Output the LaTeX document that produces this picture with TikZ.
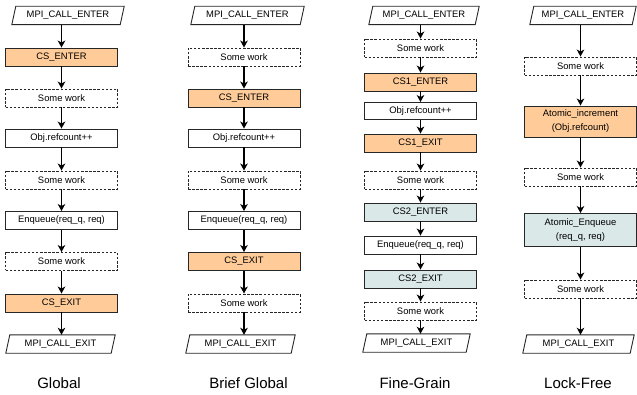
\documentclass[tikz,border=0pt]{standalone}
\usepackage{fontspec}
\setmainfont{Liberation Sans}
\usetikzlibrary{arrows.meta}
\definecolor{csorange}{HTML}{FFCC99}
\definecolor{csteal}{HTML}{DAE8E8}
\tikzset{
  box/.style={draw=black!85, line width=0.9pt, minimum width=112pt, minimum height=18pt,
    inner sep=0pt, font=\fontsize{9.4}{14}\selectfont, align=center},
  work/.style={box, dash pattern=on 2.5pt off 1.6pt},
  crit/.style={box, fill=csorange},
  crittwo/.style={box, fill=csteal},
  io/.style={minimum height=18pt, inner sep=0pt, font=\fontsize{9.4}{14}\selectfont},
  arr/.style={-{Stealth[length=7pt,width=7.5pt,inset=2pt]}, line width=1.2pt},
  coltitle/.style={font=\fontsize{15}{18}\selectfont}
}
\newcommand\mypgram[1]{\draw[draw=black!85, line width=0.9pt] ([xshift=-2pt]#1.south west) -- ([xshift=2pt]#1.north west) -- ([xshift=2pt]#1.north east) -- ([xshift=-2pt]#1.south east) -- cycle;}
\begin{document}
\begin{tikzpicture}[x=1pt,y=-1pt]
\useasboundingbox (0,0) rectangle (637,395);
% ---------------- Global
\begin{scope}[every node/.append style={minimum width=111pt}]
\node[io, minimum width=108pt] (g0) at (68,15.5) {MPI\_CALL\_ENTER};
\node[crit] (g1) at (61.5,57) {CS\_ENTER};
\node[work] (g2) at (61.5,98) {Some work};
\node[box] (g3) at (61.5,138) {Obj.refcount++};
\node[work] (g4) at (61.5,180) {Some work};
\node[box] (g5) at (61.5,220.5) {Enqueue(req\_q, req)};
\node[work] (g6) at (61.5,261.5) {Some work};
\node[crit] (g7) at (61.5,303) {CS\_EXIT};
\node[io, minimum width=105pt] (g8) at (60.5,344) {MPI\_CALL\_EXIT};
\end{scope}
\mypgram{g0}\mypgram{g8}
\node[coltitle] (gt) at (59,383) {Global};
\draw[arr] (g1.north |- g0.south) -- (g1.north);
\foreach \a/\b in {g1/g2,g2/g3,g3/g4,g4/g5,g5/g6,g6/g7} \draw[arr] (\a.south) -- (\b.north);
\draw[arr] (g7.south) -- (g7.south |- g8.north);
% ---------------- Brief Global
\node[io, minimum width=109pt] (b0) at (247.5,15.5) {MPI\_CALL\_ENTER};
\node[work] (b1) at (244,57) {Some work};
\node[crit] (b2) at (244,98) {CS\_ENTER};
\node[box] (b3) at (244,138) {Obj.refcount++};
\node[work] (b4) at (244,180) {Some work};
\node[box] (b5) at (244,220.5) {Enqueue(req\_q, req)};
\node[crit] (b6) at (244,261.5) {CS\_EXIT};
\node[work] (b7) at (244,303) {Some work};
\node[io, minimum width=105pt] (b8) at (240.5,344) {MPI\_CALL\_EXIT};
\mypgram{b0}\mypgram{b8}
\node[coltitle] (bt) at (248.5,383) {Brief Global};
\draw[arr] (b1.north |- b0.south) -- (b1.north);
\foreach \a/\b in {b1/b2,b2/b3,b3/b4,b4/b5,b5/b6,b6/b7} \draw[arr] (\a.south) -- (\b.north);
\draw[arr] (b7.south) -- (b7.south |- b8.north);
% ---------------- Fine-Grain
\begin{scope}[every node/.append style={minimum width=113pt}]
\node[io, minimum width=106pt] (f0) at (424,15.5) {MPI\_CALL\_ENTER};
\node[work] (f1) at (420.5,48) {Some work};
\node[crit] (f2) at (420.5,82) {CS1\_ENTER};
\node[box, minimum height=17pt] (f3) at (420.5,111) {Obj.refcount++};
\node[crit] (f4) at (420.5,143) {CS1\_EXIT};
\node[work] (f5) at (420.5,180) {Some work};
\node[crittwo] (f6) at (420.5,212) {CS2\_ENTER};
\node[box] (f7) at (420.5,245) {Enqueue(req\_q, req)};
\node[crittwo] (f8) at (420.5,279) {CS2\_EXIT};
\node[work] (f9) at (420.5,311) {Some work};
\node[io, minimum width=103pt] (f10) at (416.5,343) {MPI\_CALL\_EXIT};
\end{scope}
\mypgram{f0}\mypgram{f10}
\node[coltitle] (ft) at (415,383) {Fine-Grain};
\draw[arr] (f1.north |- f0.south) -- (f1.north);
\foreach \a/\b in {f1/f2,f2/f3,f3/f4,f4/f5,f5/f6,f6/f7,f7/f8,f8/f9} \draw[arr] (\a.south) -- (\b.north);
\draw[arr] (f9.south) -- (f9.south |- f10.north);
% ---------------- Lock-Free
\begin{scope}[every node/.append style={minimum width=111pt}]
\node[io, minimum width=102pt] (l0) at (583,15.5) {MPI\_CALL\_ENTER};
\node[work] (l1) at (580.5,66) {Some work};
\node[crit, minimum height=31pt] (l2) at (580.5,121.5) {Atomic\_increment\\(Obj.refcount)};
\node[work] (l3) at (580.5,177) {Some work};
\node[crittwo, minimum height=33pt] (l4) at (580.5,230) {Atomic\_Enqueue\\(req\_q, req)};
\node[work] (l5) at (580.5,289) {Some work};
\node[io, minimum width=107pt] (l6) at (578.5,344) {MPI\_CALL\_EXIT};
\end{scope}
\mypgram{l0}\mypgram{l6}
\node[coltitle] (lt) at (578,383) {Lock-Free};
\draw[arr] (l1.north |- l0.south) -- (l1.north);
\foreach \a/\b in {l1/l2,l2/l3,l3/l4,l4/l5} \draw[arr] (\a.south) -- (\b.north);
\draw[arr] (l5.south) -- (l5.south |- l6.north);
\end{tikzpicture}
\end{document}
